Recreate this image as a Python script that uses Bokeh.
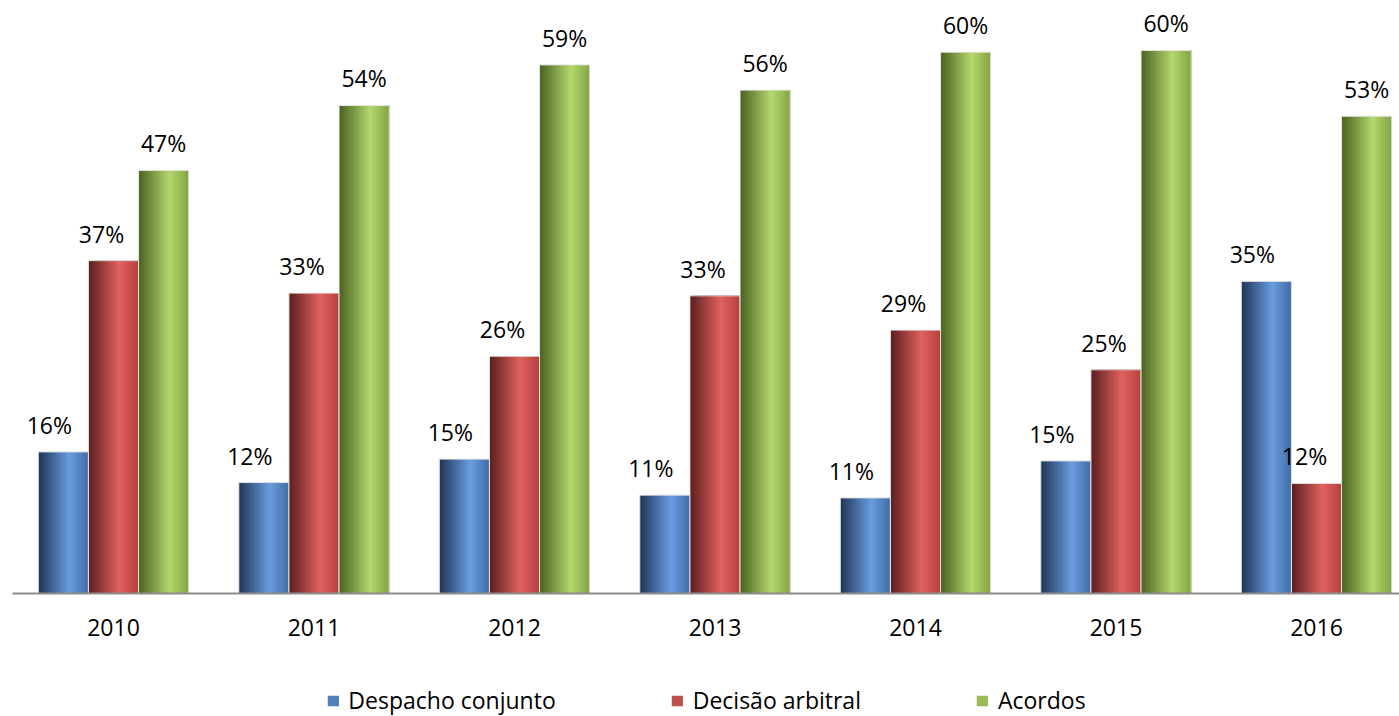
import numpy as np
from bokeh.plotting import figure
from bokeh.layouts import column
from bokeh.models import Range1d, FixedTicker, Legend, LegendItem, ColumnDataSource
from bokeh.core.properties import value
from bokeh.embed import file_html
from bokeh.resources import INLINE

# ---- data ----
years = ["2010", "2011", "2012", "2013", "2014", "2015", "2016"]
series_names = ["Despacho conjunto", "Decisão arbitral", "Acordos"]
despacho = [15.7, 12.3, 14.9, 10.9, 10.6, 14.7, 34.6]
decisao = [36.9, 33.3, 26.3, 33.0, 29.2, 24.8, 12.2]
acordos = [46.9, 54.1, 58.6, 55.8, 60.0, 60.2, 52.9]
despacho_labels = ["16%", "12%", "15%", "11%", "11%", "15%", "35%"]
decisao_labels = ["37%", "33%", "26%", "33%", "29%", "25%", "12%"]
acordos_labels = ["47%", "54%", "59%", "56%", "60%", "60%", "53%"]

# ---- styles ----
FONT = value("Open Sans")
BAR_W = 0.25
OFFSETS = [-0.25, 0.0, 0.25]
LABEL_DX = [-14, -12, 0]
GRADS = [
    [(0.0, "#1f3556"), (0.62, "#6a9de0"), (1.0, "#3f6ca5")],
    [(0.0, "#5b1f1f"), (0.62, "#e0625f"), (1.0, "#b5403d")],
    [(0.0, "#4a6121"), (0.62, "#b3d76d"), (1.0, "#84a545")],
]
SOLID = ["#4f81bd", "#c0504d", "#9bbb59"]
N_STRIPS = 25
CHART_H = 684
LEGEND_H = 716 - CHART_H


def hex2rgb(h):
    return np.array([int(h[i:i + 2], 16) for i in (1, 3, 5)], dtype=float)


def grad_color(stops, t):
    for (p0, c0), (p1, c1) in zip(stops[:-1], stops[1:]):
        if p0 <= t <= p1:
            f = (t - p0) / (p1 - p0)
            c = hex2rgb(c0) * (1 - f) + hex2rgb(c1) * f
            return "#%02x%02x%02x" % tuple(int(round(v)) for v in c)
    return stops[-1][1]


p = figure(width=1399, height=CHART_H, x_range=Range1d(-0.5037, 6.414), y_range=Range1d(0, 65.74),
           output_backend="svg", toolbar_location=None, y_axis_location=None, title=None,
           min_border_left=12, min_border_right=0, min_border_top=0,
           min_border_bottom=CHART_H - 593)
p.grid.visible = False
p.outline_line_color = None
p.background_fill_color = "white"
p.border_fill_color = "white"

cats = np.arange(len(years), dtype=float)
all_vals = [despacho, decisao, acordos]
all_labels = [despacho_labels, decisao_labels, acordos_labels]

for s, (vals, labs) in enumerate(zip(all_vals, all_labels)):
    lefts, rights, tops, cols = [], [], [], []
    for k in range(N_STRIPS):
        t = (k + 0.5) / N_STRIPS
        col = grad_color(GRADS[s], t)
        for i, v in enumerate(vals):
            c = cats[i] + OFFSETS[s]
            lefts.append(c - BAR_W / 2 + k * BAR_W / N_STRIPS)
            rights.append(c + BAR_W / 2)
            tops.append(v)
            cols.append(col)
    src = ColumnDataSource(dict(left=lefts, right=rights, top=tops, color=cols))
    p.quad(left="left", right="right", top="top", bottom=0, source=src,
           fill_color="color", line_color=None)
    p.vbar(x=cats + OFFSETS[s], top=vals, bottom=0, width=BAR_W, fill_color=None,
           line_color="#e4e4e4", line_width=1)
    p.text(x=cats + OFFSETS[s], y=vals, text=labs, text_font=FONT, text_font_size="23px",
           text_align="center", text_baseline="middle", y_offset=-27, x_offset=LABEL_DX[s],
           text_color="#000000")

ax = p.xaxis[0]
ax.ticker = FixedTicker(ticks=list(range(len(years))))
ax.major_label_overrides = {i: y for i, y in enumerate(years)}
ax.major_tick_line_color = None
ax.minor_tick_line_color = None
ax.major_tick_out = 0
ax.major_tick_in = 0
ax.axis_line_color = "#8c8c8c"
ax.axis_line_width = 2
ax.major_label_text_font = "Open Sans"
ax.major_label_text_font_size = "23px"
ax.major_label_text_color = "#000000"
ax.major_label_standoff = 25

# ---- legend strip (separate small figure below the chart) ----
leg = figure(width=1399, height=LEGEND_H, x_range=Range1d(0, 1), y_range=Range1d(0, 1),
             output_backend="svg", toolbar_location=None, x_axis_location=None,
             y_axis_location=None, title=None, min_border=0)
leg.grid.visible = False
leg.outline_line_color = None
leg.background_fill_color = "white"
leg.border_fill_color = "white"
legend_items = []
for s in range(3):
    dummy = leg.vbar(x=[10], top=[10], bottom=[9], width=0.1, fill_color=SOLID[s], line_color=None)
    legend_items.append(LegendItem(label=series_names[s], renderers=[dummy]))
legend = Legend(items=legend_items, orientation="horizontal", location="center",
                glyph_width=14, glyph_height=13, label_standoff=9, spacing=114,
                padding=0, margin=0, border_line_color=None, background_fill_alpha=0,
                label_text_font="Open Sans", label_text_font_size="23px",
                label_text_color="#000000")
leg.add_layout(legend)

layout = column(p, leg, spacing=0)
open("out.html", "w").write(file_html(layout, INLINE))
